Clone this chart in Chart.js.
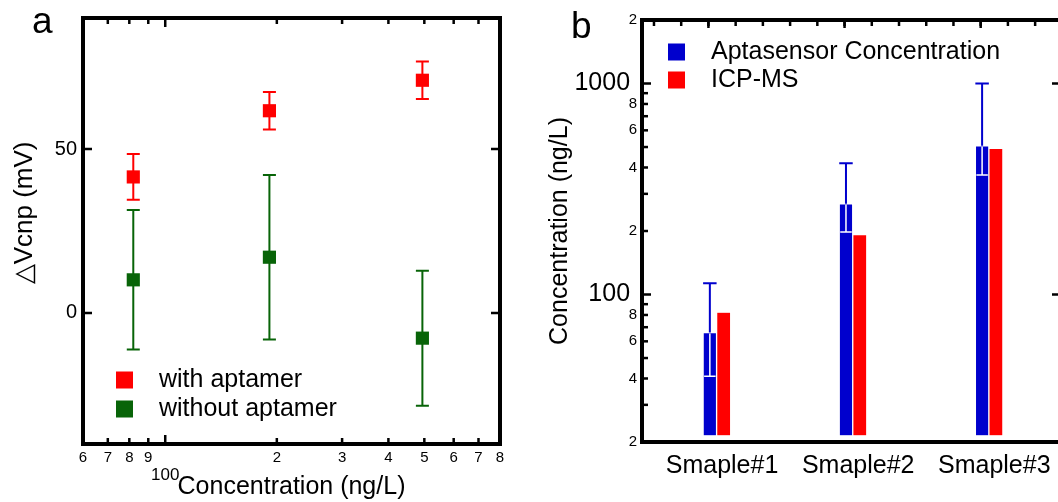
<!DOCTYPE html>
<html>
<head>
<meta charset="utf-8">
<script src="https://cdn.jsdelivr.net/npm/chart.js@4.4.0/dist/chart.umd.min.js"></script>
<style>
html, body { margin: 0; padding: 0; background: #fff; overflow: hidden; }
body { width: 1058px; height: 502px; position: relative; }
#wrapA { position: absolute; left: 0; top: 0; width: 540px; height: 502px; }
#wrapB { position: absolute; left: 540px; top: 0; width: 540px; height: 502px; }
</style>
</head>
<body>
<div id="wrapA"><canvas id="chartA"></canvas></div>
<div id="wrapB"><canvas id="chartB"></canvas></div>
<script>
// ---- panel a data ----
const concentration = [82, 191, 494];
const withAptamer = [41.5, 61.7, 71.0];
const withAptamerErr = [7.0, 5.7, 5.7];
const withoutAptamer = [10.1, 17.0, -7.7];
const withoutAptamerErr = [21.3, 25.1, 20.6];
const aXTicks = [60, 70, 80, 90, 100, 200, 300, 400, 500, 600, 700, 800];
const aXTickLabels = ['6', '7', '8', '9', '100', '2', '3', '4', '5', '6', '7', '8'];
const aYTicks = [0, 50];
const aYTickLabels = ['0', '50'];

// ---- panel b data ----
const samples = ['Smaple#1', 'Smaple#2', 'Smaple#3'];
const aptasensor = [66, 269, 507];
const aptasensorLow = [41, 198, 368];
const aptasensorHigh = [113, 419, 1000];
const icpms = [82, 191, 489];
const bYTicks = [20, 40, 60, 80, 100, 200, 400, 600, 800, 1000, 2000];
const bYTickLabels = ['2', '4', '6', '8', '100 ', '2', '4', '6', '8', '1000 ', '2'];
const bYMinor = [30, 40, 50, 60, 70, 80, 90, 200, 300, 400, 500, 600, 700, 800, 900];
const bYMajor = [100, 1000];
const bXTop = [0.54, 0.74, 0.94, 1.14, 1.34, 1.54, 1.74, 1.94, 2.14, 2.34, 2.54, 2.74, 2.94, 3.14, 3.34];
const bXTopMajor = [0.94, 1.94, 2.94];

const FONT = "'Liberation Sans', Arial, sans-serif";
const RED = '#ff0000';
const GREEN = '#086408';
const BLUE = '#0000cd';
const NO_GRID = { display: false, drawTicks: false };

// frame + inward tick marks
const framePlugin = {
  id: 'frame',
  afterDraw(chart, args, opts) {
    const { ctx, chartArea: a } = chart;
    ctx.save();
    ctx.strokeStyle = '#000';
    ctx.lineWidth = 2.5;
    (opts.marks || []).forEach(m => {
      const scale = chart.scales[m.scale];
      m.values.forEach(v => {
        const p = scale.getPixelForValue(v);
        ctx.beginPath();
        m.sides.forEach(side => {
          if (side === 'bottom') { ctx.moveTo(p, a.bottom); ctx.lineTo(p, a.bottom - m.len); }
          if (side === 'top') { ctx.moveTo(p, a.top); ctx.lineTo(p, a.top + m.len); }
          if (side === 'left') { ctx.moveTo(a.left, p); ctx.lineTo(a.left + m.len, p); }
          if (side === 'right') { ctx.moveTo(a.right, p); ctx.lineTo(a.right - m.len, p); }
        });
        ctx.stroke();
      });
    });
    ctx.lineWidth = 4;
    ctx.strokeRect(a.left, a.top, a.width, a.height);

    // panel letter
    ctx.fillStyle = '#000';
    ctx.font = '37px ' + FONT;
    ctx.textBaseline = 'alphabetic';
    ctx.textAlign = 'left';
    ctx.fillText(opts.letter, opts.letterX, opts.letterY);

    // legend
    ctx.font = '25px ' + FONT;
    ctx.textBaseline = 'middle';
    chart.data.datasets.forEach((ds, i) => {
      const y = opts.legendY + i * opts.legendGap;
      ctx.fillStyle = ds.backgroundColor;
      ctx.fillRect(opts.legendX, y - 8.5, 17, 17);
      ctx.fillStyle = '#000';
      ctx.fillText(ds.label, opts.legendX + 43, y);
    });
    ctx.restore();
  }
};

// ---- panel a ----
const errorBarsA = {
  id: 'errorBarsA',
  beforeDatasetsDraw(chart) {
    const ctx = chart.ctx, ys = chart.scales.y;
    ctx.save();
    ctx.lineWidth = 2;
    chart.data.datasets.forEach((ds, di) => {
      const meta = chart.getDatasetMeta(di);
      ctx.strokeStyle = ds.backgroundColor;
      meta.data.forEach((pt, i) => {
        const v = ds.data[i].y, e = ds.errors[i];
        const t = ys.getPixelForValue(v + e), b = ys.getPixelForValue(v - e);
        ctx.beginPath();
        ctx.moveTo(pt.x, t); ctx.lineTo(pt.x, b);
        ctx.moveTo(pt.x - 6.5, t); ctx.lineTo(pt.x + 6.5, t);
        ctx.moveTo(pt.x - 6.5, b); ctx.lineTo(pt.x + 6.5, b);
        ctx.stroke();
      });
    });
    ctx.restore();
  }
};

new Chart(document.getElementById('chartA'), {
  type: 'scatter',
  data: {
    datasets: [
      {
        label: 'with aptamer',
        data: concentration.map((c, i) => ({ x: c, y: withAptamer[i] })),
        errors: withAptamerErr,
        backgroundColor: RED, borderColor: RED,
        pointStyle: 'rect', pointRadius: 9.3, borderWidth: 0
      },
      {
        label: 'without aptamer',
        data: concentration.map((c, i) => ({ x: c, y: withoutAptamer[i] })),
        errors: withoutAptamerErr,
        backgroundColor: GREEN, borderColor: GREEN,
        pointStyle: 'rect', pointRadius: 9.3, borderWidth: 0
      }
    ]
  },
  options: {
    responsive: true, maintainAspectRatio: false, animation: false,
    layout: { padding: { left: 0, top: 14, right: 40, bottom: 0 } },
    scales: {
      x: {
        type: 'logarithmic', min: 60, max: 800,
        grid: NO_GRID, border: { display: false },
        afterBuildTicks: s => { s.ticks = aXTicks.map(v => ({ value: v })); },
        afterFit: s => { s.height = 58; },
        ticks: {
          autoSkip: false, maxRotation: 0, minRotation: 0, padding: 5, color: '#000',
          font: c => (c.tick && c.tick.value === 100)
            ? { family: FONT, size: 17, lineHeight: 1.05 }
            : { family: FONT, size: 15, lineHeight: 1.2 },
          callback: (v) => {
            const l = aXTickLabels[aXTicks.indexOf(v)];
            return v === 100 ? ['', l] : l;
          }
        },
        title: {
          display: true, text: 'Concentration (ng/L)', color: '#000',
          font: { family: FONT, size: 25, lineHeight: 1 }, padding: { top: 0, bottom: 2 }
        }
      },
      y: {
        type: 'linear', min: -40, max: 90,
        grid: NO_GRID, border: { display: false },
        afterBuildTicks: s => { s.ticks = aYTicks.map(v => ({ value: v })); },
        afterFit: s => { s.width = 83; },
        ticks: {
          padding: 6, color: '#000', font: { family: FONT, size: 20 },
          callback: v => aYTickLabels[aYTicks.indexOf(v)]
        },
        title: {
          display: true, text: '\u00a0\u00a0\u00a0\u00a0\u00a0△Vcnp (mV)', color: '#000',
          font: { family: FONT, size: 26, lineHeight: 1 }, padding: { top: 12, bottom: 0 }
        }
      }
    },
    plugins: {
      legend: { display: false }, tooltip: { enabled: false },
      frame: {
        letter: 'a', letterX: 32, letterY: 33,
        legendX: 116, legendY: 380, legendGap: 29,
        marks: [
          { scale: 'x', values: [70, 80, 90, 200, 300, 400, 500, 600, 700], len: 6, sides: ['bottom', 'top'] },
          { scale: 'x', values: [100], len: 9, sides: ['bottom', 'top'] },
          { scale: 'y', values: aYTicks, len: 9, sides: ['left', 'right'] }
        ]
      }
    }
  },
  plugins: [errorBarsA, framePlugin]
});

// ---- panel b ----
const errorBarsB = {
  id: 'errorBarsB',
  afterDatasetsDraw(chart) {
    const ctx = chart.ctx, ys = chart.scales.y;
    const meta = chart.getDatasetMeta(0);
    ctx.save();
    meta.data.forEach((bar, i) => {
      const x = bar.x, half = bar.width / 2;
      const top = ys.getPixelForValue(aptasensor[i]);
      const hi = ys.getPixelForValue(aptasensorHigh[i]);
      const lo = ys.getPixelForValue(aptasensorLow[i]);
      ctx.strokeStyle = BLUE; ctx.lineWidth = 2;
      ctx.beginPath();
      ctx.moveTo(x, top); ctx.lineTo(x, hi);
      ctx.moveTo(x - half, hi); ctx.lineTo(x + half, hi);
      ctx.stroke();
      ctx.strokeStyle = '#fff'; ctx.lineWidth = 1.5;
      ctx.beginPath();
      ctx.moveTo(x, top + 1); ctx.lineTo(x, lo);
      ctx.moveTo(x - half + 1, lo); ctx.lineTo(x + half - 1, lo);
      ctx.stroke();
    });
    ctx.restore();
  }
};

new Chart(document.getElementById('chartB'), {
  type: 'bar',
  data: {
    datasets: [
      {
        label: 'Aptasensor Concentration',
        data: aptasensor.map((v, i) => ({ x: i + 1, y: v })),
        backgroundColor: BLUE, borderColor: '#fff', borderWidth: 1,
        barThickness: 13.5, base: 21.5
      },
      {
        label: 'ICP-MS',
        data: icpms.map((v, i) => ({ x: i + 1, y: v })),
        backgroundColor: RED, borderColor: '#fff', borderWidth: { left: 1 },
        barThickness: 13.5, base: 21.5
      }
    ]
  },
  options: {
    responsive: true, maintainAspectRatio: false, animation: false,
    layout: { padding: { left: 0, top: 20, right: 19, bottom: 0 } },
    scales: {
      x: {
        type: 'linear', min: 0.452, max: 3.53, offset: false,
        grid: NO_GRID, border: { display: false },
        afterBuildTicks: s => { s.ticks = samples.map((n, i) => ({ value: i + 1.04 })); },
        afterFit: s => { s.height = 60; },
        ticks: {
          autoSkip: false, maxRotation: 0, minRotation: 0, padding: 12, color: '#000',
          font: { family: FONT, size: 25, lineHeight: 1 },
          callback: (v, i) => samples[i]
        }
      },
      y: {
        type: 'logarithmic', min: 20, max: 2000,
        grid: NO_GRID, border: { display: false },
        afterBuildTicks: s => { s.ticks = bYTicks.map(v => ({ value: v })); },
        afterFit: s => { s.width = 102; },
        ticks: {
          autoSkip: false, padding: 5, color: '#000',
          font: c => (c.tick && (c.tick.value === 100 || c.tick.value === 1000))
            ? { family: FONT, size: 25 }
            : { family: FONT, size: 15 },
          callback: v => bYTickLabels[bYTicks.indexOf(v)]
        },
        title: {
          display: true, text: 'Concentration (ng/L)', color: '#000',
          font: { family: FONT, size: 25, lineHeight: 1 }, padding: { top: 8, bottom: 0 }
        }
      }
    },
    plugins: {
      legend: { display: false }, tooltip: { enabled: false },
      frame: {
        letter: 'b', letterX: 31, letterY: 38,
        legendX: 128, legendY: 52, legendGap: 28,
        marks: [
          { scale: 'y', values: bYMinor, len: 6, sides: ['left'] },
          { scale: 'y', values: bYMajor, len: 9, sides: ['left', 'right'] },
          { scale: 'x', values: bXTop, len: 6, sides: ['top'] },
          { scale: 'x', values: bXTopMajor, len: 8, sides: ['top'] }
        ]
      }
    }
  },
  plugins: [errorBarsB, framePlugin]
});
</script>
</body>
</html>
